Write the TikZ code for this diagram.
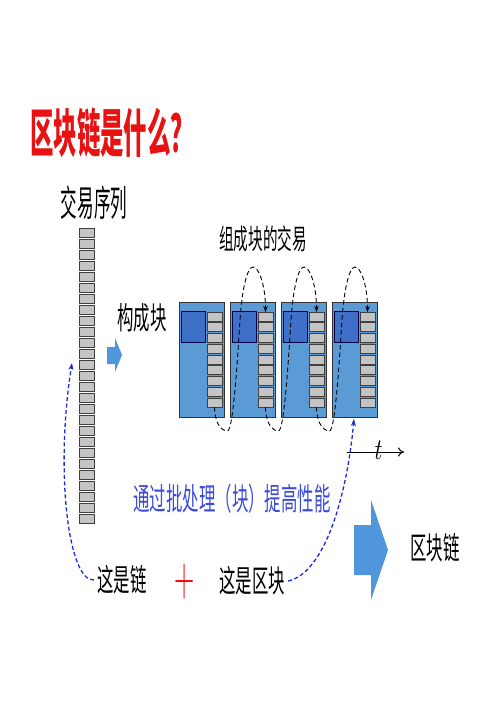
\documentclass[tikz,border=0pt]{standalone}
\usepackage{graphicx}
\usepackage{fontspec}
\setmainfont{Noto Sans CJK SC}
\newfontfamily\lmfont{Latin Modern Roman}
\usetikzlibrary{arrows.meta,calc}
\definecolor{blockblue}{RGB}{91,155,213}
\definecolor{innerblue}{RGB}{62,112,200}
\definecolor{arrowblue}{RGB}{79,150,220}
\definecolor{linkblue}{RGB}{25,45,215}
\definecolor{titlered}{RGB}{232,18,18}
\definecolor{boxgray}{RGB}{196,196,196}
\newcommand{\narrow}[3]{\scalebox{#2}[1]{\fontsize{#1}{#1}\selectfont #3}}
\tikzset{
  gbox/.style={draw=black!75, line width=0.8pt, fill=boxgray, minimum width=15pt, minimum height=9pt, inner sep=0pt, outer sep=0pt},
  blockbox/.style={draw=black!80, line width=0.7pt, fill=blockblue, minimum width=45pt, minimum height=115pt, inner sep=0pt, outer sep=0pt},
  innerbox/.style={draw=black!70!blue, line width=0.7pt, fill=innerblue, minimum width=24pt, minimum height=31pt, inner sep=0pt},
  txlink/.style={draw=black, line width=0.9pt, dash pattern=on 4.5pt off 3pt, -{Stealth[length=6pt,width=4.5pt]}},
  bluelink/.style={draw=linkblue, line width=1.3pt, dash pattern=on 4pt off 2.5pt, -{Stealth[length=7pt,width=5pt]}},
  lbl/.style={inner sep=0pt},
}
\begin{document}
\begin{tikzpicture}[x=1pt,y=-1pt]
\useasboundingbox (0,0) rectangle (499,706);
\fill[white] (0,0) rectangle (499,706);

% title
\node[lbl, anchor=west, text=titlered] (title) at (30,133) {\narrow{52}{0.45}{\bfseries 区块链是什么？}};

% transaction sequence
\node[lbl] (seqlbl) at (94,203) {\narrow{36}{0.46}{交易序列}};
\foreach \i in {0,...,26} {
  \node[gbox] (c\i) at (86.5,233+11*\i) {};
}

% small arrow
\fill[arrowblue] (107,347) -- (115,347) -- (115,338) -- (122,355) -- (115,372) -- (115,364) -- (107,364) -- cycle;
\node[lbl] (formlbl) at (142,318) {\narrow{31}{0.53}{构成块}};

% blocks
\node[lbl] (txlbl) at (263,239) {\narrow{28}{0.52}{组成块的交易}};
\foreach \k in {0,1,2,3} {
  \pgfmathsetmacro{\L}{179+51*\k}
  \node[blockbox, anchor=north west] (b\k) at (\L,302) {};
  \node[innerbox] (in\k) at (\L+14,326.5) {};
  \foreach \j in {0,...,8} {
    \node[gbox] (b\k g\j) at (\L+35.5,316.5+10.75*\j) {};
  }
}
\foreach \k/\n in {0/1,1/2,2/3} {
  \draw[txlink] (b\k g8.south)
    .. controls +(0,16) and +(-6,0) .. ($(b\k g8.south)+(13,24)$)
    .. controls +(6,0) and +(-2,30) .. ($(b\n.north west)+(10,18)$)
    .. controls +(2,-30) and +(-6,0) .. ($(b\n.north west)+(23,-35)$)
    .. controls +(6,0) and +(0,-26) .. (b\n g0.north);
}

% time axis
\coordinate (t0) at (347,452);
\coordinate (t1) at (404,452);
\draw[line width=1pt, -{To[length=6pt,width=9pt]}] (t0) -- (t1);
\node[lbl] (tlbl) at (377,450) {\scalebox{0.8}[1]{\lmfont\itshape\fontsize{30}{30}\selectfont t}};

% blue text
\node[lbl, text=linkblue!85!white] (perf) at (232,499) {\narrow{31}{0.53}{通过批处理（块）提高性能}};

% bottom labels
\node[lbl, anchor=west] (chain) at (97,580) {\narrow{31}{0.53}{这是链}};
\node[lbl, text=red] (plus) at (185,582) {\scalebox{0.5}[1]{\lmfont\fontsize{56}{56}\selectfont +}};
\node[lbl, anchor=west] (block) at (219,581) {\narrow{31}{0.53}{这是区块}};

% big arrow
\fill[arrowblue] (354,525) -- (371,525) -- (371,500) -- (388,550) -- (371,600) -- (371,575) -- (354,575) -- cycle;
\node[lbl, anchor=west] (bc) at (410,548) {\narrow{31}{0.53}{区块链}};

% blue dashed links
\draw[bluelink] ($(block.east)+(3,0)$) .. controls (325,573) and (347,495) .. ($(b3.south west)+(22,2)$);
\draw[bluelink] ($(chain.west)+(-3,0)$) .. controls (68,582) and (55,470) .. ($(c12.west)+(-7,-2)$);
\end{tikzpicture}
\end{document}
